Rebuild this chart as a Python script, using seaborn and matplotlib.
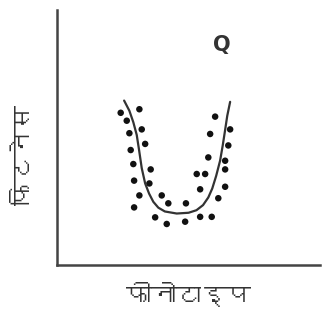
import seaborn as sns
import matplotlib.pyplot as plt
from matplotlib import font_manager
from matplotlib.ft2font import FT2Font

# data (arbitrary units 0-10)
pt_x = [2.42, 2.65, 3.13, 2.75, 3.22, 3.35, 2.80, 2.90, 3.56, 2.93, 3.51, 3.13, 2.93,
        3.98, 4.23, 3.73, 4.17, 4.90, 4.87, 5.44, 5.88, 5.31, 5.63, 5.44, 6.13, 6.39,
        5.75, 6.39, 6.39, 5.82, 6.51, 6.58, 6.01]
pt_y = [5.97, 5.66, 6.11, 5.17, 5.32, 4.75, 4.51, 3.96, 3.75, 3.31, 3.20, 2.73, 2.26,
        2.73, 2.42, 1.87, 1.61, 2.42, 1.70, 1.89, 1.89, 3.57, 3.57, 2.97, 2.62, 3.07,
        4.22, 4.09, 3.75, 5.14, 4.69, 5.32, 5.82]

curve_x = [2.55, 2.75, 2.90, 3.03, 3.12, 3.22, 3.35, 3.50, 3.66, 3.85, 4.10, 4.55,
           5.00, 5.30, 5.55, 5.75, 5.90, 6.05, 6.20, 6.30, 6.39, 6.47, 6.58]
curve_y = [6.45, 6.05, 5.60, 5.10, 4.50, 3.80, 3.20, 2.80, 2.48, 2.25, 2.10, 2.02,
           2.05, 2.15, 2.35, 2.65, 3.00, 3.50, 4.10, 4.70, 5.30, 5.85, 6.40]

x_label = "फीनोटाइप"
y_label = "फिटनेस"
panel = "Q"

# find a font that has Devanagari
deva = None
for f in font_manager.fontManager.ttflist:
    try:
        if 0x092B in FT2Font(f.fname).get_charmap():
            deva = f.name
            break
    except Exception:
        pass
fams = ([deva] if deva else []) + ['DejaVu Sans']

sns.set_style("white")
plt.rcParams['font.family'] = fams

fig = plt.figure(figsize=(3.24, 3.24), dpi=100)
ax = fig.add_axes([0.176, 0.182, 0.812, 0.787])

sns.lineplot(x=curve_x, y=curve_y, sort=False, color="#333333", linewidth=1.6, ax=ax)
sns.scatterplot(x=pt_x, y=pt_y, color="#111111", s=22, edgecolor="none", ax=ax)

ax.set_xlim(0, 10)
ax.set_ylim(0, 10)
ax.set_xticks([])
ax.set_yticks([])
sns.despine(ax=ax)
for s in ["left", "bottom"]:
    ax.spines[s].set_color("#444444")
    ax.spines[s].set_linewidth(1.8)

ax.text(6.27, 8.63, panel, fontsize=15, fontweight="bold", color="#333333",
        ha="center", va="center", family="DejaVu Sans")
ax.set_xlabel(x_label, fontsize=18, fontweight="bold", color="#333333")
ax.set_ylabel(y_label, fontsize=18, fontweight="bold", color="#333333")
ax.yaxis.set_label_coords(-0.085, 0.43)
ax.xaxis.set_label_coords(0.5, -0.065)

fig.savefig("out.png", dpi=100)
